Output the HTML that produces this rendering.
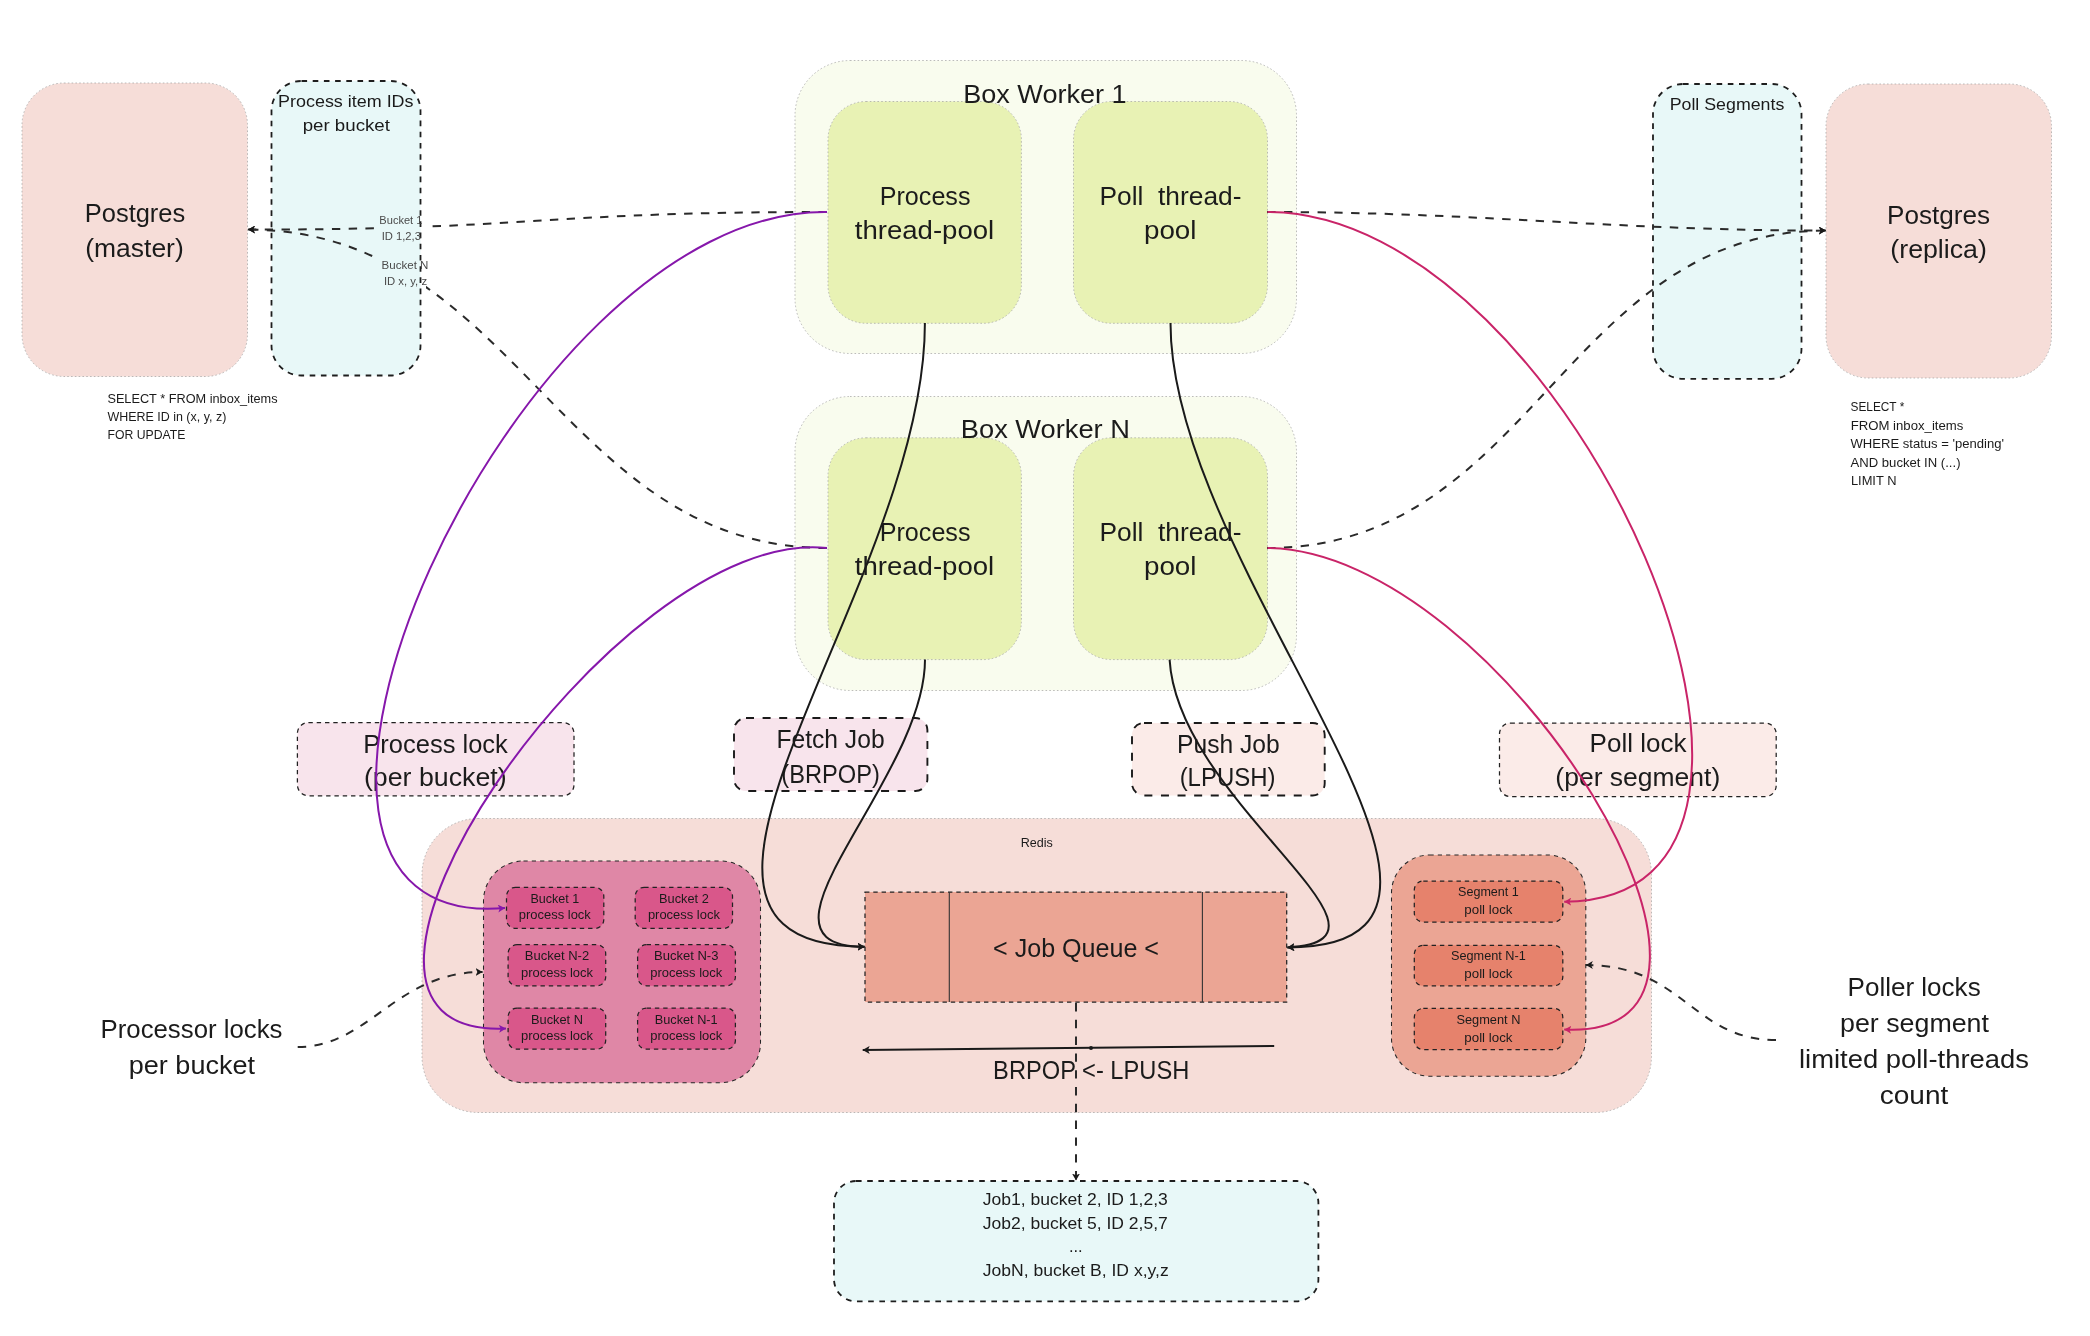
<!DOCTYPE html>
<html><head><meta charset="utf-8">
<style>
html,body{margin:0;padding:0;background:#fff;width:2090px;height:1336px;overflow:hidden}
svg{display:block;will-change:transform}
text{font-family:"Liberation Sans",sans-serif;fill:#1b1b1b}
.L{font-size:26px}
.M{font-size:17px}
.S{font-size:13px}
.T{font-size:11px;fill:#4a4a4a}
.faint{fill:none;stroke:#a0a0a0;stroke-width:0.7;stroke-dasharray:1.6 2.2}
.dbox{stroke:#1e1e1e;stroke-width:1.8;stroke-dasharray:5.6 5.6}
.tbox{stroke:#222;stroke-width:1.25;stroke-dasharray:4.4 3.9}
.tbox2{stroke:#262626;stroke-width:1.05;stroke-dasharray:4.2 4.1}
.dbox2{stroke:#1a1a1a;stroke-width:1.9;stroke-dasharray:8 8.6}
.conn{fill:none;stroke:#1a1a1a;stroke-width:2}
.dash{fill:none;stroke:#2a2a2a;stroke-width:2;stroke-dasharray:8.4 8.4}
</style></head>
<body>
<svg width="2090" height="1336" viewBox="0 0 2090 1336">
<defs>
<marker id="ak" viewBox="0 0 10 10" refX="10" refY="5" markerWidth="7" markerHeight="8" preserveAspectRatio="none" markerUnits="userSpaceOnUse" orient="auto"><path d="M0,0 L10,5 L0,10 L2.5,5 Z" fill="#1a1a1a"/></marker>
<marker id="ap" viewBox="0 0 10 10" refX="10" refY="5" markerWidth="7" markerHeight="8" preserveAspectRatio="none" markerUnits="userSpaceOnUse" orient="auto"><path d="M0,0 L10,5 L0,10 L2.5,5 Z" fill="#8617ab"/></marker>
<marker id="ac" viewBox="0 0 10 10" refX="10" refY="5" markerWidth="7" markerHeight="8" preserveAspectRatio="none" markerUnits="userSpaceOnUse" orient="auto"><path d="M0,0 L10,5 L0,10 L2.5,5 Z" fill="#c92468"/></marker>
<mask id="m1" maskUnits="userSpaceOnUse" x="0" y="0" width="2090" height="1336">
<rect x="0" y="0" width="2090" height="1336" fill="#fff"/>
<rect x="376" y="208" width="56" height="36" fill="#000"/>
<rect x="374" y="256" width="52" height="34" fill="#000"/>
</mask>
</defs>

<!-- ===== BOXES ===== -->
<!-- Postgres master -->
<rect x="22" y="83" width="225.5" height="293.5" rx="42" fill="#f6ddd8"/>
<rect x="22" y="83" width="225.5" height="293.5" rx="42" class="faint"/>
<!-- Process item IDs -->
<rect x="271.5" y="81" width="149" height="294.5" rx="30" fill="#e8f8f8" class="dbox"/>
<!-- Poll Segments -->
<rect x="1653" y="84" width="148.5" height="294.8" rx="30" fill="#e8f8f8" class="dbox"/>
<!-- Postgres replica -->
<rect x="1826" y="84" width="225.5" height="294" rx="42" fill="#f6ddd8"/>
<rect x="1826" y="84" width="225.5" height="294" rx="42" class="faint"/>

<!-- Worker 1 -->
<rect x="795" y="60.5" width="501.5" height="293" rx="55" fill="#f9fcee"/>
<rect x="795" y="60.5" width="501.5" height="293" rx="55" class="faint"/>
<rect x="828" y="101.5" width="193.4" height="221.8" rx="38" fill="#e8f2b4"/>
<rect x="828" y="101.5" width="193.4" height="221.8" rx="38" class="faint"/>
<rect x="1073.5" y="101.5" width="194" height="221.8" rx="38" fill="#e8f2b4"/>
<rect x="1073.5" y="101.5" width="194" height="221.8" rx="38" class="faint"/>
<!-- Worker N -->
<rect x="795" y="396.5" width="501.5" height="294" rx="55" fill="#f9fcee"/>
<rect x="795" y="396.5" width="501.5" height="294" rx="55" class="faint"/>
<rect x="828" y="437.8" width="193.4" height="221.8" rx="38" fill="#e8f2b4"/>
<rect x="828" y="437.8" width="193.4" height="221.8" rx="38" class="faint"/>
<rect x="1073.5" y="437.8" width="194" height="221.8" rx="38" fill="#e8f2b4"/>
<rect x="1073.5" y="437.8" width="194" height="221.8" rx="38" class="faint"/>

<!-- Labels row -->
<rect x="297.4" y="722.5" width="276.6" height="73.3" rx="11" fill="#f8e4ec" class="tbox"/>
<rect x="734" y="718" width="193.4" height="73" rx="12" fill="#f8e4ec" class="dbox2"/>
<rect x="1132" y="723" width="192.7" height="72.5" rx="12" fill="#fbebe8" class="dbox2"/>
<rect x="1499.5" y="723" width="276.7" height="73.6" rx="11" fill="#fbebe8" class="tbox"/>

<!-- Redis -->
<rect x="422" y="818.5" width="1229.5" height="294" rx="56" fill="#f6ddd8"/>
<rect x="422" y="818.5" width="1229.5" height="294" rx="56" class="faint"/>
<!-- bucket group -->
<rect x="483.5" y="861" width="277" height="221.7" rx="40" fill="#df87a6" class="tbox2"/>
<rect x="506.5" y="887.3" width="97.3" height="41.1" rx="9" fill="#d9578a" class="tbox"/>
<rect x="635.2" y="887.3" width="97.3" height="41.1" rx="9" fill="#d9578a" class="tbox"/>
<rect x="508.1" y="944.7" width="97.6" height="41.1" rx="9" fill="#d9578a" class="tbox"/>
<rect x="637.6" y="944.7" width="97.8" height="41.1" rx="9" fill="#d9578a" class="tbox"/>
<rect x="508.1" y="1008" width="97.6" height="41.2" rx="9" fill="#d9578a" class="tbox"/>
<rect x="637.6" y="1008" width="97.8" height="41.2" rx="9" fill="#d9578a" class="tbox"/>
<!-- job queue -->
<rect x="865" y="892" width="421.7" height="110" fill="#eba594" class="tbox"/>
<line x1="949.3" y1="892" x2="949.3" y2="1002" stroke="#333" stroke-width="1.1"/>
<line x1="1202.4" y1="892" x2="1202.4" y2="1002" stroke="#333" stroke-width="1.1"/>
<!-- segment group -->
<rect x="1391.5" y="855" width="194.3" height="221.2" rx="38" fill="#eba594" class="tbox2"/>
<rect x="1414.3" y="881" width="148.5" height="41" rx="9" fill="#e6826c" class="tbox"/>
<rect x="1414.3" y="945.3" width="148.5" height="40.5" rx="9" fill="#e6826c" class="tbox"/>
<rect x="1414.3" y="1008.4" width="148.5" height="41.3" rx="9" fill="#e6826c" class="tbox"/>

<!-- job list -->
<rect x="834" y="1181" width="484.4" height="120.3" rx="22" fill="#e8f8f8" class="dbox"/>

<!-- TEXTS_START -->
<text class="L" x="135.0" y="222.0" text-anchor="middle" textLength="100.5" lengthAdjust="spacingAndGlyphs" xml:space="preserve">Postgres</text>
<text class="L" x="134.5" y="257.0" text-anchor="middle" textLength="98.5" lengthAdjust="spacingAndGlyphs" xml:space="preserve">(master)</text>
<text class="L" x="1938.6" y="223.7" text-anchor="middle" textLength="103.0" lengthAdjust="spacingAndGlyphs" xml:space="preserve">Postgres</text>
<text class="L" x="1938.6" y="257.6" text-anchor="middle" textLength="96.5" lengthAdjust="spacingAndGlyphs" xml:space="preserve">(replica)</text>
<text class="L" x="1044.9" y="102.5" text-anchor="middle" textLength="163.5" lengthAdjust="spacingAndGlyphs" xml:space="preserve">Box Worker 1</text>
<text class="L" x="1045.4" y="438.3" text-anchor="middle" textLength="169.1" lengthAdjust="spacingAndGlyphs" xml:space="preserve">Box Worker N</text>
<text class="L" x="925.1" y="204.7" text-anchor="middle" textLength="90.7" lengthAdjust="spacingAndGlyphs" xml:space="preserve">Process</text>
<text class="L" x="924.5" y="239.0" text-anchor="middle" textLength="139.5" lengthAdjust="spacingAndGlyphs" xml:space="preserve">thread-pool</text>
<text class="L" x="1170.5" y="204.7" text-anchor="middle" textLength="142.0" lengthAdjust="spacingAndGlyphs" xml:space="preserve">Poll  thread-</text>
<text class="L" x="1170.2" y="239.0" text-anchor="middle" textLength="52.5" lengthAdjust="spacingAndGlyphs" xml:space="preserve">pool</text>
<text class="L" x="925.1" y="540.7" text-anchor="middle" textLength="90.7" lengthAdjust="spacingAndGlyphs" xml:space="preserve">Process</text>
<text class="L" x="924.5" y="575.0" text-anchor="middle" textLength="139.5" lengthAdjust="spacingAndGlyphs" xml:space="preserve">thread-pool</text>
<text class="L" x="1170.5" y="540.7" text-anchor="middle" textLength="142.0" lengthAdjust="spacingAndGlyphs" xml:space="preserve">Poll  thread-</text>
<text class="L" x="1170.2" y="575.0" text-anchor="middle" textLength="52.5" lengthAdjust="spacingAndGlyphs" xml:space="preserve">pool</text>
<text class="L" x="435.6" y="752.7" text-anchor="middle" textLength="144.5" lengthAdjust="spacingAndGlyphs" xml:space="preserve">Process lock</text>
<text class="L" x="435.3" y="786.2" text-anchor="middle" textLength="142.7" lengthAdjust="spacingAndGlyphs" xml:space="preserve">(per bucket)</text>
<text class="L" x="830.5" y="747.8" text-anchor="middle" textLength="108.2" lengthAdjust="spacingAndGlyphs" xml:space="preserve">Fetch Job</text>
<text class="L" x="830.6" y="783.0" text-anchor="middle" textLength="98.5" lengthAdjust="spacingAndGlyphs" xml:space="preserve">(BRPOP)</text>
<text class="L" x="1228.4" y="752.7" text-anchor="middle" textLength="102.7" lengthAdjust="spacingAndGlyphs" xml:space="preserve">Push Job</text>
<text class="L" x="1227.6" y="786.2" text-anchor="middle" textLength="95.9" lengthAdjust="spacingAndGlyphs" xml:space="preserve">(LPUSH)</text>
<text class="L" x="1638.0" y="752.0" text-anchor="middle" textLength="96.8" lengthAdjust="spacingAndGlyphs" xml:space="preserve">Poll lock</text>
<text class="L" x="1637.8" y="786.2" text-anchor="middle" textLength="164.9" lengthAdjust="spacingAndGlyphs" xml:space="preserve">(per segment)</text>
<text class="L" x="1076.0" y="956.8" text-anchor="middle" textLength="165.9" lengthAdjust="spacingAndGlyphs" xml:space="preserve">&lt; Job Queue &lt;</text>
<text class="L" x="1091.2" y="1079.2" text-anchor="middle" textLength="196.2" lengthAdjust="spacingAndGlyphs" xml:space="preserve">BRPOP &lt;- LPUSH</text>
<text class="L" x="191.5" y="1038.4" text-anchor="middle" textLength="181.9" lengthAdjust="spacingAndGlyphs" xml:space="preserve">Processor locks</text>
<text class="L" x="191.9" y="1074.3" text-anchor="middle" textLength="126.2" lengthAdjust="spacingAndGlyphs" xml:space="preserve">per bucket</text>
<text class="L" x="1914.1" y="995.5" text-anchor="middle" textLength="133.1" lengthAdjust="spacingAndGlyphs" xml:space="preserve">Poller locks</text>
<text class="L" x="1914.5" y="1031.8" text-anchor="middle" textLength="148.9" lengthAdjust="spacingAndGlyphs" xml:space="preserve">per segment</text>
<text class="L" x="1914.0" y="1067.6" text-anchor="middle" textLength="230.0" lengthAdjust="spacingAndGlyphs" xml:space="preserve">limited poll-threads</text>
<text class="L" x="1914.0" y="1104.0" text-anchor="middle" textLength="68.5" lengthAdjust="spacingAndGlyphs" xml:space="preserve">count</text>
<text class="M" x="345.8" y="106.8" text-anchor="middle" textLength="135.5" lengthAdjust="spacingAndGlyphs" xml:space="preserve">Process item IDs</text>
<text class="M" x="346.3" y="131.0" text-anchor="middle" textLength="87.3" lengthAdjust="spacingAndGlyphs" xml:space="preserve">per bucket</text>
<text class="M" x="1727.0" y="110.0" text-anchor="middle" textLength="114.7" lengthAdjust="spacingAndGlyphs" xml:space="preserve">Poll Segments</text>
<text class="M" x="1075.3" y="1205.3" text-anchor="middle" textLength="185.1" lengthAdjust="spacingAndGlyphs" xml:space="preserve">Job1, bucket 2, ID 1,2,3</text>
<text class="M" x="1075.3" y="1229.0" text-anchor="middle" textLength="185.1" lengthAdjust="spacingAndGlyphs" xml:space="preserve">Job2, bucket 5, ID 2,5,7</text>
<text class="M" x="1075.8" y="1252.0" text-anchor="middle" textLength="13.7" lengthAdjust="spacingAndGlyphs" xml:space="preserve">...</text>
<text class="M" x="1075.7" y="1275.8" text-anchor="middle" textLength="186.0" lengthAdjust="spacingAndGlyphs" xml:space="preserve">JobN, bucket B, ID x,y,z</text>
<text class="S" x="1036.7" y="846.8" text-anchor="middle" textLength="32.1" lengthAdjust="spacingAndGlyphs" xml:space="preserve">Redis</text>
<text class="S" x="554.8" y="902.9" text-anchor="middle" textLength="48.8" lengthAdjust="spacingAndGlyphs" xml:space="preserve">Bucket 1</text>
<text class="S" x="554.8" y="919.3" text-anchor="middle" textLength="72.0" lengthAdjust="spacingAndGlyphs" xml:space="preserve">process lock</text>
<text class="S" x="683.9" y="902.9" text-anchor="middle" textLength="49.7" lengthAdjust="spacingAndGlyphs" xml:space="preserve">Bucket 2</text>
<text class="S" x="683.9" y="919.3" text-anchor="middle" textLength="72.0" lengthAdjust="spacingAndGlyphs" xml:space="preserve">process lock</text>
<text class="S" x="557.0" y="960.1" text-anchor="middle" textLength="64.3" lengthAdjust="spacingAndGlyphs" xml:space="preserve">Bucket N-2</text>
<text class="S" x="557.0" y="976.5" text-anchor="middle" textLength="72.0" lengthAdjust="spacingAndGlyphs" xml:space="preserve">process lock</text>
<text class="S" x="686.2" y="960.1" text-anchor="middle" textLength="64.5" lengthAdjust="spacingAndGlyphs" xml:space="preserve">Bucket N-3</text>
<text class="S" x="686.2" y="976.5" text-anchor="middle" textLength="72.0" lengthAdjust="spacingAndGlyphs" xml:space="preserve">process lock</text>
<text class="S" x="557.0" y="1024.0" text-anchor="middle" textLength="52.0" lengthAdjust="spacingAndGlyphs" xml:space="preserve">Bucket N</text>
<text class="S" x="557.0" y="1040.4" text-anchor="middle" textLength="72.0" lengthAdjust="spacingAndGlyphs" xml:space="preserve">process lock</text>
<text class="S" x="686.2" y="1024.0" text-anchor="middle" textLength="63.0" lengthAdjust="spacingAndGlyphs" xml:space="preserve">Bucket N-1</text>
<text class="S" x="686.2" y="1040.4" text-anchor="middle" textLength="72.0" lengthAdjust="spacingAndGlyphs" xml:space="preserve">process lock</text>
<text class="S" x="1488.4" y="895.9" text-anchor="middle" textLength="60.7" lengthAdjust="spacingAndGlyphs" xml:space="preserve">Segment 1</text>
<text class="S" x="1488.4" y="913.8" text-anchor="middle" textLength="48.1" lengthAdjust="spacingAndGlyphs" xml:space="preserve">poll lock</text>
<text class="S" x="1488.4" y="959.8" text-anchor="middle" textLength="74.8" lengthAdjust="spacingAndGlyphs" xml:space="preserve">Segment N-1</text>
<text class="S" x="1488.4" y="977.7" text-anchor="middle" textLength="48.1" lengthAdjust="spacingAndGlyphs" xml:space="preserve">poll lock</text>
<text class="S" x="1488.4" y="1023.6" text-anchor="middle" textLength="64.0" lengthAdjust="spacingAndGlyphs" xml:space="preserve">Segment N</text>
<text class="S" x="1488.4" y="1041.5" text-anchor="middle" textLength="48.1" lengthAdjust="spacingAndGlyphs" xml:space="preserve">poll lock</text>
<text class="T" x="400.9" y="224.3" text-anchor="middle" textLength="43.1" lengthAdjust="spacingAndGlyphs" xml:space="preserve">Bucket 1</text>
<text class="T" x="401.3" y="239.7" text-anchor="middle" textLength="39.3" lengthAdjust="spacingAndGlyphs" xml:space="preserve">ID 1,2,3</text>
<text class="T" x="405.0" y="268.5" text-anchor="middle" textLength="46.8" lengthAdjust="spacingAndGlyphs" xml:space="preserve">Bucket N</text>
<text class="T" x="405.5" y="284.8" text-anchor="middle" textLength="43.1" lengthAdjust="spacingAndGlyphs" xml:space="preserve">ID x, y, z</text>
<text class="S" x="107.4" y="402.7" textLength="170.2" lengthAdjust="spacingAndGlyphs">SELECT * FROM inbox_items</text>
<text class="S" x="107.4" y="420.5" textLength="118.9" lengthAdjust="spacingAndGlyphs">WHERE ID in (x, y, z)</text>
<text class="S" x="107.60000000000001" y="438.6" textLength="77.8" lengthAdjust="spacingAndGlyphs">FOR UPDATE</text>
<text class="S" x="1850.5" y="410.9" textLength="53.8" lengthAdjust="spacingAndGlyphs">SELECT *</text>
<text class="S" x="1850.7" y="430" textLength="112.7" lengthAdjust="spacingAndGlyphs">FROM inbox_items</text>
<text class="S" x="1850.5" y="447.9" textLength="153.5" lengthAdjust="spacingAndGlyphs">WHERE status = &#x27;pending&#x27;</text>
<text class="S" x="1850.5" y="466.6" textLength="110.0" lengthAdjust="spacingAndGlyphs">AND bucket IN (...)</text>
<text class="S" x="1850.9" y="484.5" textLength="45.6" lengthAdjust="spacingAndGlyphs">LIMIT N</text>
<!-- TEXTS_END -->

<!-- CONN_START -->
<!-- dashed to master -->
<g mask="url(#m1)">
<path class="dash" d="M827,212 C537,212 537,229.6 248,229.6" marker-end="url(#ak)"/>
<path class="dash" d="M827,548 C560.3,548 517.2,229.6 248,229.6" marker-end="url(#ak)"/>
</g>
<!-- dashed to replica -->
<path class="dash" d="M1267,212 C1481,212 1612.2,230.6 1825.9,230.6" marker-end="url(#ak)"/>
<path class="dash" d="M1267,548 C1532.1,548 1565.3,230.6 1825.9,230.6" marker-end="url(#ak)"/>
<!-- annotations -->
<path class="dash" d="M297.7,1047 C369.5,1047 395.1,972 482.6,972" marker-end="url(#ak)"/>
<path class="dash" d="M1776,1040 C1692.2,1040 1683.7,965 1585.8,965" marker-end="url(#ak)"/>
<path class="dash" d="M1076,1003 L1076,1180.5" marker-end="url(#ak)"/>
<!-- black solid -->
<path class="conn" d="M924.9,323 C924.9,589.5 603.4,946.7 864.6,946.7" marker-end="url(#ak)"/>
<path class="conn" d="M925,659.5 C925,780.4 733.2,946.7 864.6,946.7" marker-end="url(#ak)"/>
<path class="conn" d="M1170.5,323 C1170.5,575.2 1550.6,947.4 1287.4,947.4" marker-end="url(#ak)"/>
<path class="conn" d="M1169.6,659.6 C1178,802.7 1424.4,940.5 1287.4,947.4" marker-end="url(#ak)"/>
<path class="conn" d="M1274.2,1046 L862.7,1050" marker-end="url(#ak)"/>
<circle cx="1091" cy="1048" r="2" fill="#1a1a1a"/>
<!-- purple -->
<path class="conn" style="stroke:#8617ab" d="M827,212 C511.2,208.3 190.9,936.2 505,908" marker-end="url(#ap)"/>
<path class="conn" style="stroke:#8617ab" d="M827,548 C615.6,524.2 263.3,1040 506,1028.5" marker-end="url(#ap)"/>
<!-- crimson -->
<path class="conn" style="stroke:#c92468" d="M1267.5,212 C1574.4,212 1868.1,901.7 1564.2,901.7" marker-end="url(#ac)"/>
<path class="conn" style="stroke:#c92468" d="M1267.5,548 C1503.5,551.1 1798.3,1041.9 1564.2,1029.5" marker-end="url(#ac)"/>

<!-- CONN_END -->
</svg>
</body></html>
